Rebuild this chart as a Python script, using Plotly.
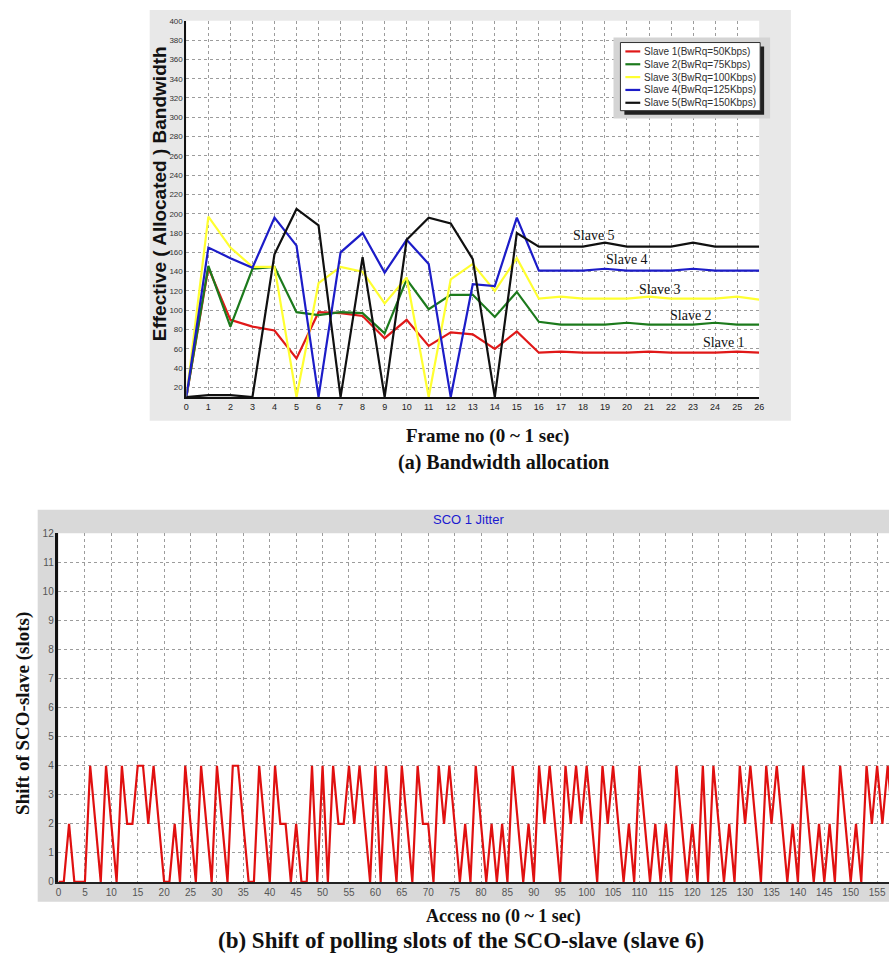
import plotly.graph_objects as go

# ---------------- (a) bandwidth allocation per frame ----------------
frames = list(range(27))
slave1 = [10, 144, 90, 83, 79, 50, 98, 97, 94, 71, 90, 63, 77, 75, 60, 78,
          56, 57, 56, 56, 56, 57, 56, 56, 56, 57, 56]
slave2 = [10, 146, 83, 143, 145, 98, 95, 98, 97, 76, 132, 101, 116, 116, 93, 119,
          88, 85, 85, 85, 87, 85, 85, 85, 87, 85, 85]
slave3 = [10, 197, 165, 145, 145, 10, 128, 145, 140, 107, 134, 10, 132, 148, 120, 154,
          112, 114, 112, 112, 112, 114, 112, 112, 112, 114, 111]
slave4 = [10, 165, 154, 144, 196, 167, 10, 160, 180, 139, 173, 148, 10, 127, 125, 196,
          141, 141, 141, 143, 141, 141, 141, 143, 141, 141, 141]
slave5 = [10, 12, 12, 10, 158, 205, 188, 10, 155, 10, 173, 196, 190, 153, 10, 180,
          166, 166, 166, 170, 166, 166, 166, 170, 166, 166, 166]

series_names = ["Slave 1(BwRq=50Kbps)", "Slave 2(BwRq=75Kbps)", "Slave 3(BwRq=100Kbps)",
                "Slave 4(BwRq=125Kbps)", "Slave 5(BwRq=150Kbps)"]
series_values = [slave1, slave2, slave3, slave4, slave5]
series_colors = ["#e01818", "#1c7a1c", "#ffff30", "#1c1cc8", "#101010"]

slave_labels = ["Slave 5", "Slave 4", "Slave 3", "Slave 2", "Slave 1"]
slave_label_x = [18.5, 20.0, 21.5, 22.9, 24.4]
slave_label_y = [177, 153, 122, 95, 67]

bw_ticks = list(range(20, 401, 20))

# ---------------- (b) SCO-slave jitter per access ----------------
access_no = list(range(159))
sco_shift = [
    0, 0, 2, 0, 0, 0, 4, 2, 0, 4,      # 0-9
    2, 0, 4, 2, 2, 4, 4, 2, 4, 2,      # 10-19
    0, 0, 2, 0, 4, 2, 0, 4, 2, 0,      # 20-29
    4, 2, 0, 4, 4, 2, 0, 0, 4, 2,      # 30-39
    0, 4, 2, 2, 0, 2, 0, 0, 4, 0,      # 40-49
    4, 0, 4, 2, 2, 4, 2, 4, 2, 0,      # 50-59
    4, 0, 4, 2, 0, 4, 2, 0, 4, 2,      # 60-69
    2, 0, 4, 2, 4, 2, 0, 2, 0, 4,      # 70-79
    2, 0, 2, 0, 2, 0, 4, 2, 0, 2,      # 80-89
    0, 4, 2, 4, 2, 0, 4, 2, 4, 2,      # 90-99
    4, 2, 0, 4, 2, 4, 2, 0, 2, 0,      # 100-109
    4, 2, 0, 2, 0, 2, 0, 4, 2, 0,      # 110-119
    2, 0, 4, 0, 4, 2, 0, 2, 0, 4,      # 120-129
    2, 4, 2, 0, 4, 2, 4, 2, 0, 2,      # 130-139
    0, 4, 2, 0, 2, 0, 2, 0, 4, 2,      # 140-149
    0, 2, 0, 4, 2, 4, 2, 4, 2,         # 150-158
]

W, H = 894, 962


def px(x):
    return x / W


def py(y):
    return 1 - y / H


SANS = "Liberation Sans, Arial, sans-serif"
SERIF = "Liberation Serif, Times New Roman, serif"
GRID = "#9c9c9c"

fig = go.Figure()

for name, vals, col in zip(series_names, series_values, series_colors):
    fig.add_trace(go.Scatter(x=frames, y=vals, mode="lines", name=name,
                             line=dict(color=col, width=2.2),
                             xaxis="x", yaxis="y", showlegend=False,
                             hoverinfo="skip"))

fig.add_trace(go.Scatter(x=access_no, y=sco_shift, mode="lines", name="SCO 1 Jitter",
                         line=dict(color="#e01010", width=2.2),
                         xaxis="x2", yaxis="y2", showlegend=False,
                         hoverinfo="skip"))

shapes = [
    # panel backgrounds
    dict(type="rect", xref="paper", yref="paper", x0=px(148), x1=px(795),
         y0=py(420), y1=py(4), fillcolor="#e8e8e8", line=dict(width=0), layer="below"),
    dict(type="rect", xref="paper", yref="paper", x0=px(35), x1=1.0,
         y0=py(907), y1=py(510), fillcolor="#d9d9d9", line=dict(width=0), layer="below"),
    # white plotting areas
    dict(type="rect", xref="paper", yref="paper", x0=px(185), x1=px(763),
         y0=py(396), y1=py(15), fillcolor="white", line=dict(width=0), layer="below"),
    dict(type="rect", xref="paper", yref="paper", x0=px(56), x1=1.0,
         y0=py(887), y1=py(534), fillcolor="white", line=dict(width=0), layer="below"),
    # legend frame, shadow and box
    dict(type="rect", xref="paper", yref="paper", x0=px(616), x1=px(774),
         y0=py(114), y1=py(32), fillcolor="#d4d4d4", line=dict(width=0), layer="above"),
    dict(type="rect", xref="paper", yref="paper", x0=px(627), x1=px(768),
         y0=py(110), y1=py(41), fillcolor="#202020", line=dict(width=0), layer="above"),
    dict(type="rect", xref="paper", yref="paper", x0=px(623), x1=px(764),
         y0=py(106), y1=py(37), fillcolor="white", line=dict(color="#303030", width=1),
         layer="above"),
]

annotations = []
legend_rows = [46, 59, 72, 85, 98]
for name, col, ry in zip(series_names, series_colors, legend_rows):
    shapes.append(dict(type="line", xref="paper", yref="paper", x0=px(628), x1=px(643),
                       y0=py(ry), y1=py(ry), line=dict(color=col, width=2.2), layer="above"))
    annotations.append(dict(text=name, xref="paper", yref="paper", x=px(645), y=py(ry),
                            xanchor="left", yanchor="middle", showarrow=False,
                            font=dict(family=SANS, size=10, color="#303030")))

for lab, lx, ly in zip(slave_labels, slave_label_x, slave_label_y):
    annotations.append(dict(text=lab, x=lx, y=ly, xref="x", yref="y", showarrow=False,
                            xanchor="center", yanchor="middle",
                            font=dict(family=SERIF, size=14, color="#111")))


def label(text, x, y, size, family, angle=0, color="#111"):
    return dict(text=text, xref="paper", yref="paper", x=px(x), y=py(y),
                textangle=angle, showarrow=False, xanchor="center", yanchor="middle",
                font=dict(family=family, size=size, color=color))


annotations += [
    label("<b>Effective ( Allocated ) Bandwidth</b>", 158, 190, 19, SANS, -90),
    label("<b>Frame no (0 ~ 1 sec)</b>", 489, 435, 19, SERIF),
    label("<b>(a) Bandwidth allocation</b>", 505, 462, 20, SERIF),
    label("SCO 1 Jitter", 470, 520, 13, SANS, color="#1a1ad0"),
    label("<b>Shift of SCO-slave (slots)</b>", 20, 716, 19, SERIF, -90),
    label("<b>Access no (0 ~ 1 sec)</b>", 505, 922, 18, SERIF),
    label("<b>(b) Shift of polling slots of the SCO-slave (slave 6)</b>", 462, 946, 23, SERIF),
]

fig.update_layout(
    width=W, height=H,
    margin=dict(l=0, r=0, t=0, b=0),
    paper_bgcolor="white", plot_bgcolor="white",
    showlegend=False,
    xaxis=dict(domain=[px(185), px(763)], range=[0, 26], tickmode="array",
               tickvals=frames, ticktext=[str(f) for f in frames],
               showgrid=True, gridcolor=GRID, griddash="3px,3px", gridwidth=1,
               showline=True, linecolor="#111", linewidth=2, zeroline=False,
               ticks="", tickfont=dict(family=SANS, size=9, color="#222"),
               anchor="y", fixedrange=True),
    yaxis=dict(domain=[py(396), py(15)], range=[10, 400], tickmode="array",
               tickvals=bw_ticks, showgrid=True, gridcolor=GRID, griddash="3px,3px",
               gridwidth=1, showline=True, linecolor="#111", linewidth=2, zeroline=False,
               ticks="", tickfont=dict(family=SANS, size=8, color="#333"),
               anchor="x", fixedrange=True),
    xaxis2=dict(domain=[px(56), 1.0], range=[0, 157.25], tickmode="linear", tick0=0,
                dtick=5, showgrid=True, gridcolor=GRID, griddash="3px,3px", gridwidth=1,
                showline=True, linecolor="#222", linewidth=2, zeroline=False,
                ticks="", tickfont=dict(family=SANS, size=10, color="#555"),
                anchor="y2", fixedrange=True),
    yaxis2=dict(domain=[py(887), py(534)], range=[0, 12], tickmode="linear", tick0=0,
                dtick=1, showgrid=True, gridcolor=GRID, griddash="3px,3px", gridwidth=1,
                showline=True, linecolor="#111", linewidth=2.5, zeroline=False,
                ticks="", tickfont=dict(family=SANS, size=10, color="#555"),
                anchor="x2", fixedrange=True),
    shapes=shapes,
    annotations=annotations,
)

fig.write_html("out.html")
